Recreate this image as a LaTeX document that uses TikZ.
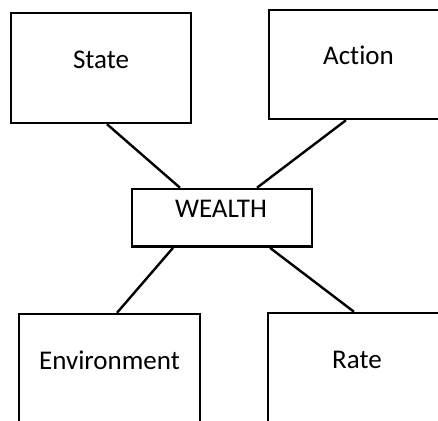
\documentclass[tikz,border=0pt]{standalone}
\usepackage{fontspec}
\setmainfont{Carlito}[Ligatures=NoCommon]

\tikzset{
  box/.style={draw=black, inner sep=0pt, minimum width=180pt, minimum height=110pt},
  word/.style={inner sep=0pt, anchor=base, font=\fontsize{27}{32}\selectfont},
  link/.style={line width=2.4pt}
}

\begin{document}
\begin{tikzpicture}[x=1pt, y=-1pt, line width=2.4pt]
	%%%%% START %%%%%
	\useasboundingbox (0, 0) rectangle (438, 420);
	\clip (0, 0) rectangle (438, 420);

	% boxes, the right and lower ones run off the page
	\node[box] (state) at (101, 68) {};
	\node[box, minimum height=109pt] (action) at (359, 64.5) {};
	\node[box, minimum height=57.7pt] (wealth) at (221.7, 217.8) {};
	\node[box, minimum width=181pt] (env) at (109.5, 369) {};
	\node[box, minimum width=178pt] (rate) at (357, 368) {};

	% labels sit near the top of each box
	\node[word] (statetxt) at (101, 68) {State};
	\node[word] (actiontxt) at (358.5, 64) {Action};
	\node[word] (wealthtxt) at (221, 217) {WEALTH};
	\node[word] (envtxt) at (109.5, 369) {Environment};
	\node[word] (ratetxt) at (357, 368) {Rate};

	% links to the middle box
	\draw[link] ([xshift=6pt]state.south) -- ([xshift=-41.7pt]wealth.north);
	\draw[link] ([xshift=-13pt]action.south) -- ([xshift=35.3pt]wealth.north);
	\draw[link] ([xshift=-48.7pt]wealth.south) -- ([xshift=7.5pt]env.north);
	\draw[link] ([xshift=48.3pt]wealth.south) -- ([xshift=-3pt]rate.north);

	%%%%% END %%%%%
\end{tikzpicture}
\end{document}
